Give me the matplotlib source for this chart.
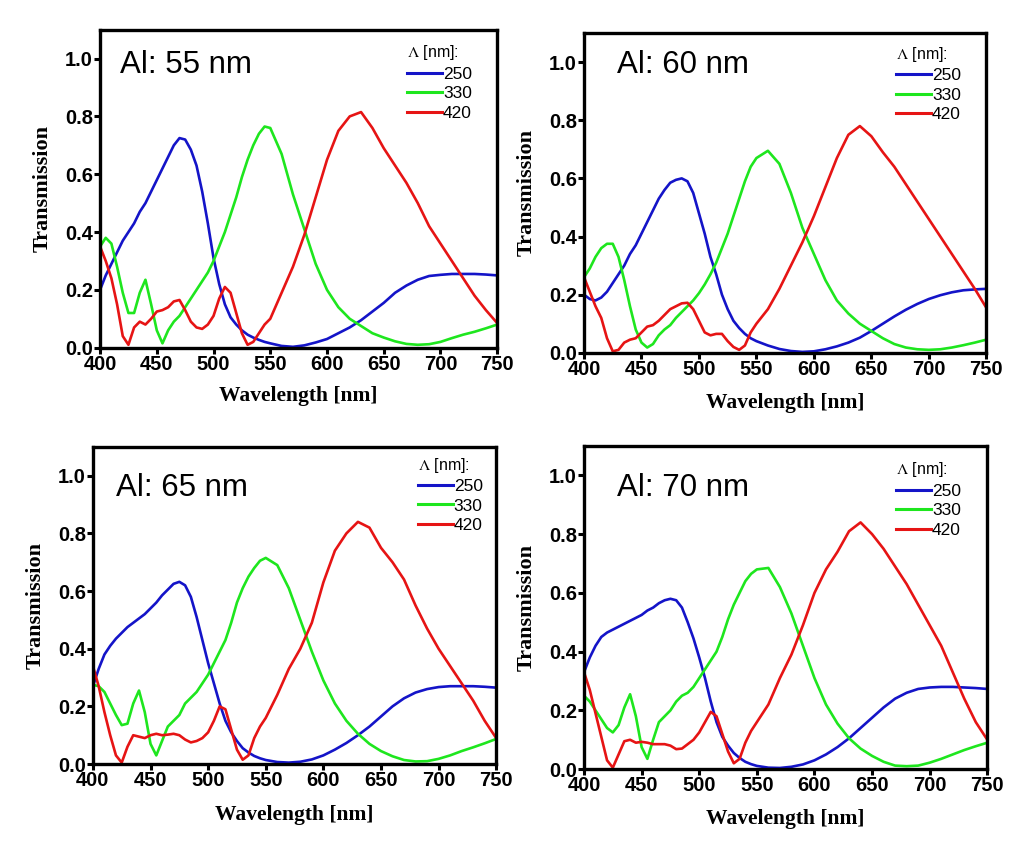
import matplotlib
matplotlib.use("Agg")
import matplotlib.pyplot as plt

plt.rcParams["mathtext.fontset"] = "stix"

# wavelength grid [nm]
WL = [400, 405, 410, 415, 420, 425, 430, 435, 440, 445, 450, 455, 460, 465, 470,
      475, 480, 485, 490, 495, 500, 505, 510, 515, 520, 525, 530, 535, 540, 545, 550,
      560, 570, 580, 590, 600, 610, 620, 630, 640, 650, 660, 670, 680, 690, 700,
      710, 720, 730, 740, 750]

PERIODS = ["250", "330", "420"]
THICKNESS = ["Al: 55 nm", "Al: 60 nm", "Al: 65 nm", "Al: 70 nm"]

# Al 55 nm
T55_250 = [0.20, 0.25, 0.29, 0.33, 0.37, 0.40, 0.43, 0.47, 0.50, 0.54, 0.58, 0.62, 0.66, 0.70, 0.725,
           0.72, 0.685, 0.63, 0.54, 0.43, 0.31, 0.22, 0.15, 0.105, 0.08, 0.06, 0.045, 0.035, 0.027, 0.02, 0.015,
           0.006, 0.003, 0.008, 0.018, 0.03, 0.05, 0.07, 0.095, 0.125, 0.155, 0.19, 0.215, 0.235, 0.248, 0.252,
           0.255, 0.255, 0.255, 0.253, 0.25]
T55_330 = [0.35, 0.38, 0.36, 0.28, 0.19, 0.12, 0.12, 0.19, 0.235, 0.15, 0.06, 0.015, 0.06, 0.09, 0.11,
           0.14, 0.17, 0.20, 0.23, 0.26, 0.30, 0.35, 0.40, 0.46, 0.52, 0.59, 0.65, 0.70, 0.74, 0.765, 0.76,
           0.67, 0.53, 0.41, 0.29, 0.20, 0.14, 0.10, 0.075, 0.05, 0.035, 0.022, 0.013, 0.01, 0.012, 0.02,
           0.033, 0.045, 0.055, 0.067, 0.08]
T55_420 = [0.35, 0.30, 0.24, 0.15, 0.04, 0.01, 0.07, 0.09, 0.08, 0.10, 0.125, 0.13, 0.14, 0.16, 0.165,
           0.13, 0.09, 0.07, 0.065, 0.08, 0.11, 0.17, 0.21, 0.19, 0.12, 0.05, 0.01, 0.02, 0.05, 0.08, 0.10,
           0.19, 0.28, 0.39, 0.52, 0.65, 0.75, 0.80, 0.815, 0.76, 0.69, 0.63, 0.57, 0.50, 0.42, 0.36,
           0.30, 0.24, 0.18, 0.13, 0.085]

# Al 60 nm
T60_250 = [0.20, 0.185, 0.18, 0.19, 0.21, 0.24, 0.27, 0.30, 0.34, 0.37, 0.41, 0.45, 0.49, 0.53, 0.56,
           0.585, 0.595, 0.60, 0.59, 0.55, 0.48, 0.41, 0.33, 0.27, 0.20, 0.15, 0.11, 0.085, 0.065, 0.05, 0.04,
           0.025, 0.013, 0.006, 0.003, 0.005, 0.012, 0.022, 0.035, 0.052, 0.075, 0.10, 0.125, 0.148, 0.168, 0.185,
           0.198, 0.208, 0.215, 0.218, 0.22]
T60_330 = [0.26, 0.29, 0.33, 0.36, 0.375, 0.375, 0.33, 0.25, 0.16, 0.08, 0.035, 0.018, 0.03, 0.06, 0.08,
           0.095, 0.12, 0.14, 0.16, 0.18, 0.205, 0.235, 0.27, 0.31, 0.36, 0.41, 0.47, 0.53, 0.59, 0.64, 0.67,
           0.695, 0.65, 0.55, 0.43, 0.34, 0.25, 0.18, 0.135, 0.10, 0.075, 0.05, 0.03, 0.018, 0.012, 0.01,
           0.012, 0.018, 0.026, 0.035, 0.045]
T60_420 = [0.26, 0.21, 0.16, 0.12, 0.05, 0.005, 0.01, 0.035, 0.045, 0.05, 0.07, 0.09, 0.095, 0.11, 0.13,
           0.15, 0.16, 0.17, 0.172, 0.15, 0.11, 0.07, 0.06, 0.065, 0.065, 0.04, 0.02, 0.01, 0.025, 0.07, 0.10,
           0.15, 0.22, 0.30, 0.38, 0.47, 0.57, 0.67, 0.75, 0.78, 0.745, 0.69, 0.64, 0.58, 0.52, 0.46,
           0.40, 0.34, 0.28, 0.22, 0.155]

# Al 65 nm
T65_250 = [0.27, 0.33, 0.38, 0.41, 0.435, 0.455, 0.475, 0.49, 0.505, 0.52, 0.54, 0.56, 0.585, 0.605, 0.625,
           0.632, 0.62, 0.58, 0.51, 0.43, 0.35, 0.28, 0.21, 0.15, 0.11, 0.08, 0.055, 0.04, 0.028, 0.02, 0.014,
           0.007, 0.005, 0.008, 0.016, 0.03, 0.05, 0.073, 0.10, 0.13, 0.165, 0.20, 0.228, 0.248, 0.26, 0.267,
           0.27, 0.27, 0.27, 0.268, 0.265]
T65_330 = [0.275, 0.27, 0.25, 0.21, 0.17, 0.135, 0.14, 0.21, 0.255, 0.18, 0.07, 0.03, 0.08, 0.13, 0.15,
           0.17, 0.21, 0.23, 0.25, 0.28, 0.31, 0.35, 0.39, 0.43, 0.49, 0.56, 0.61, 0.65, 0.68, 0.705, 0.715,
           0.69, 0.61, 0.50, 0.39, 0.29, 0.21, 0.15, 0.105, 0.07, 0.045, 0.027, 0.014, 0.009, 0.01, 0.018,
           0.03, 0.045, 0.058, 0.072, 0.087]
T65_420 = [0.34, 0.27, 0.18, 0.10, 0.03, 0.005, 0.06, 0.10, 0.095, 0.09, 0.10, 0.105, 0.10, 0.102, 0.105,
           0.10, 0.085, 0.075, 0.08, 0.09, 0.11, 0.15, 0.20, 0.19, 0.12, 0.05, 0.015, 0.03, 0.09, 0.13, 0.16,
           0.24, 0.33, 0.40, 0.49, 0.63, 0.74, 0.80, 0.84, 0.82, 0.75, 0.70, 0.64, 0.55, 0.47, 0.40,
           0.34, 0.28, 0.22, 0.15, 0.09]

# Al 70 nm
T70_250 = [0.33, 0.38, 0.42, 0.45, 0.465, 0.475, 0.485, 0.495, 0.505, 0.515, 0.525, 0.54, 0.55, 0.565, 0.575,
           0.58, 0.575, 0.55, 0.50, 0.445, 0.38, 0.31, 0.23, 0.16, 0.11, 0.08, 0.055, 0.038, 0.025, 0.017, 0.011,
           0.005, 0.004, 0.008, 0.016, 0.03, 0.05, 0.075, 0.105, 0.14, 0.175, 0.21, 0.24, 0.26, 0.273, 0.278,
           0.28, 0.28, 0.278, 0.276, 0.273]
T70_330 = [0.25, 0.23, 0.20, 0.17, 0.14, 0.125, 0.15, 0.21, 0.255, 0.18, 0.075, 0.035, 0.10, 0.16, 0.18,
           0.20, 0.23, 0.25, 0.26, 0.28, 0.31, 0.34, 0.37, 0.40, 0.45, 0.51, 0.56, 0.60, 0.64, 0.665, 0.68,
           0.685, 0.62, 0.53, 0.42, 0.31, 0.22, 0.155, 0.105, 0.07, 0.045, 0.025, 0.012, 0.01, 0.012, 0.022,
           0.035, 0.05, 0.065, 0.078, 0.09]
T70_420 = [0.33, 0.27, 0.19, 0.11, 0.03, 0.005, 0.05, 0.095, 0.10, 0.09, 0.093, 0.09, 0.085, 0.085, 0.085,
           0.08, 0.068, 0.07, 0.085, 0.10, 0.125, 0.16, 0.195, 0.18, 0.12, 0.06, 0.02, 0.035, 0.09, 0.13, 0.16,
           0.22, 0.31, 0.39, 0.49, 0.60, 0.68, 0.74, 0.81, 0.84, 0.80, 0.75, 0.69, 0.63, 0.56, 0.49,
           0.42, 0.33, 0.24, 0.16, 0.10]

COLORS = ["#1414c8", "#1ee61e", "#e61414"]
NARROW = ["Liberation Sans Narrow", "Liberation Sans"]

# axes rectangles in figure fractions, and where title / legend sit inside each
AX_RECTS = [(0.098, 0.590, 0.389, 0.375),
            (0.572, 0.584, 0.394, 0.377),
            (0.091, 0.099, 0.395, 0.374),
            (0.572, 0.093, 0.395, 0.381)]
TITLE_POS = [(0.05, 0.865), (0.082, 0.875), (0.057, 0.845), (0.082, 0.845)]
LEG_POS = [(0.752, 0.985), (0.755, 0.99), (0.785, 1.0), (0.753, 0.983)]
XLAB_PAD = [9, 10, 11, 10]


def main():
    fig = plt.figure(figsize=(10.21, 8.48), dpi=100)
    series = [(T55_250, T55_330, T55_420), (T60_250, T60_330, T60_420),
              (T65_250, T65_330, T65_420), (T70_250, T70_330, T70_420)]

    for i, curves in enumerate(series):
        ax = fig.add_axes(AX_RECTS[i])
        for ys, lab, col in zip(curves, PERIODS, COLORS):
            ax.plot(WL, ys, color=col, lw=1.9, label=lab, solid_joinstyle="round")

        ax.set_xlim(400, 750)
        ax.set_ylim(0, 1.1)
        ax.set_xticks(range(400, 751, 50))
        ax.set_yticks([0.0, 0.2, 0.4, 0.6, 0.8, 1.0])
        ax.set_yticklabels(["0.0", "0.2", "0.4", "0.6", "0.8", "1.0"])
        for sp in ax.spines.values():
            sp.set_linewidth(2.4)
        ax.tick_params(direction="out", length=4, width=2.2, pad=1)
        for t in ax.get_xticklabels() + ax.get_yticklabels():
            t.set_fontfamily(NARROW)
            t.set_fontweight("bold")
            t.set_fontsize(14.5)

        ax.set_xlabel("Wavelength [nm]", family="Liberation Serif",
                      fontweight="bold", fontsize=15.5, labelpad=XLAB_PAD[i])
        ax.set_ylabel("Transmission", family="Liberation Serif",
                      fontweight="bold", fontsize=16, labelpad=9)

        ax.text(TITLE_POS[i][0], TITLE_POS[i][1], THICKNESS[i], transform=ax.transAxes,
                family="Liberation Sans", fontsize=22.5, va="baseline", ha="left")

        leg = ax.legend(loc="upper left", bbox_to_anchor=LEG_POS[i], frameon=False,
                        title="$\\Lambda$ [nm]:", alignment="left", borderpad=0,
                        handlelength=2.0, handletextpad=0.05, labelspacing=0.25,
                        prop={"family": NARROW, "size": 12.5},
                        title_fontproperties={"family": NARROW, "size": 11.5})
        for ln in leg.get_lines():
            ln.set_linewidth(2.2)

    fig.savefig("out.png", dpi=100)
    plt.close(fig)


if __name__ == "__main__":
    main()
